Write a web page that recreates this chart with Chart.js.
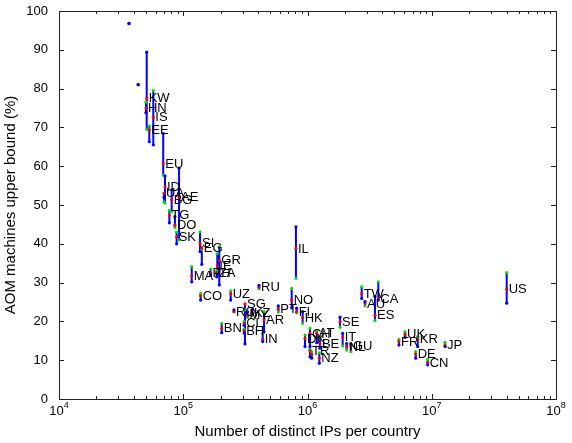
<!DOCTYPE html>
<html>
<head>
<meta charset="utf-8">
<script src="https://cdn.jsdelivr.net/npm/chart.js@4"></script>
<style>
  html, body { margin: 0; padding: 0; background: #fff; }
  #chart { display: block; }
</style>
</head>
<body>
<canvas id="chart" width="572" height="443"></canvas>
<script>
// country codes (empty = unlabeled point)
const countries = ["", "", "KW", "HN", "IS", "EE", "EU", "ID", "UA", "BG",
  "AE", "TG", "DO", "SK", "SI", "EG", "GR", "IE", "MA", "PH",
  "ZA", "CO", "UZ", "RU", "BN", "SG", "RO", "MY", "KZ", "AR",
  "CL", "BH", "IN", "PT", "NO", "IL", "FI", "HK", "SE", "CH",
  "DK", "AT", "BE", "TR", "", "NZ", "IT", "NL", "GU", "TW",
  "AU", "CA", "ES", "UK", "FR", "KR", "DE", "CN", "JP", "US"];

// number of distinct IPs per country
const ips = [36600, 43400, 50800, 50100, 57400, 53300, 69000, 71300, 70000, 80700,
  92500, 77300, 85700, 88500, 136500, 141000, 195000, 188000, 117000, 166000,
  186000, 138000, 241000, 407000, 204000, 314000, 256000, 329000, 357000, 447000,
  309000, 309000, 436000, 582000, 746000, 807000, 818000, 914000, 1828000, 1047000,
  955000, 1186000, 1259000, 1047000, 1081000, 1245000, 1919000, 2065000, 2239000, 2729000,
  2904000, 3715000, 3491000, 6095000, 5445000, 7709000, 7430000, 9268000, 12790000, 40090000];

// three estimates of the AOM upper bound (%)
const greenVals = [96.8, 81.0, 69.5, 76.5, 79.5, 70.4, 57.7, 50.5, 50.8, 48.3,
  41.0, 48.6, 44.2, 43.0, 43.1, 38.5, 39.3, 37.5, 34.1, 33.5,
  33.0, 27.2, 27.9, 28.4, 19.5, 23.0, 22.5, 21.0, 21.5, 22.5,
  20.0, 18.0, 16.9, 22.4, 28.5, 31.1, 22.2, 19.5, 18.5, 18.2,
  16.5, 17.5, 15.6, 12.8, 12.2, 11.9, 13.7, 12.6, 12.2, 28.9,
  24.0, 30.2, 20.2, 17.3, 15.4, 16.1, 12.2, 10.2, 14.6, 32.6];

const redVals = [96.8, 81.0, 77.5, 75.0, 72.6, 69.3, 60.7, 54.7, 53.0, 51.3,
  52.0, 47.4, 44.8, 41.8, 40.1, 39.0, 35.8, 34.3, 31.8, 32.4,
  32.6, 26.6, 27.1, 28.8, 18.2, 24.5, 22.5, 21.6, 22.1, 20.4,
  19.5, 17.6, 15.4, 23.1, 25.5, 38.8, 22.5, 21.0, 19.9, 16.9,
  15.6, 17.0, 14.3, 12.4, 11.5, 10.5, 15.9, 13.5, 13.7, 27.1,
  24.6, 25.9, 21.6, 16.7, 14.8, 15.4, 11.6, 9.4, 13.9, 28.3];

const blueVals = [96.8, 81.0, 89.4, 73.8, 65.5, 66.3, 68.4, 57.5, 52.0, 53.9,
  59.5, 45.4, 47.0, 40.0, 38.0, 34.7, 29.4, 32.0, 30.2, 32.0,
  31.5, 25.5, 25.5, 29.3, 17.1, 14.2, 23.0, 22.5, 23.0, 17.3,
  19.0, 17.0, 14.8, 24.0, 23.5, 44.4, 23.4, 22.5, 21.1, 13.5,
  13.5, 14.5, 13.1, 10.9, 10.5, 9.2, 16.9, 14.3, 14.2, 25.9,
  25.1, 25.5, 26.4, 15.9, 13.9, 13.5, 10.5, 8.8, 13.5, 24.7];

const yTicks = [0, 10, 20, 30, 40, 50, 60, 70, 80, 90, 100];
const xDecades = [4, 5, 6, 7, 8];

const FONT = "'Liberation Sans', Arial, Helvetica, sans-serif";

function points(vals) {
  return ips.map((ip, i) => ({ x: ip, y: vals[i] }));
}

// vertical range segments, broken by null points
const rangeData = [];
ips.forEach((ip, i) => {
  const v = [greenVals[i], redVals[i], blueVals[i]];
  rangeData.push({ x: ip, y: Math.min(...v) });
  rangeData.push({ x: ip, y: Math.max(...v) });
  rangeData.push({ x: ip, y: null });
});

const dot = (data, color) => ({
  data,
  backgroundColor: color,
  borderColor: color,
  pointRadius: 1.6,
  borderWidth: 0,
  showLine: false,
});

const boxPlugin = {
  id: "boxPlugin",
  afterDraw(chart) {
    const { ctx, chartArea: a, scales } = chart;
    const x = scales.x;
    const y = scales.y;
    ctx.save();
    ctx.strokeStyle = "#222";
    ctx.lineWidth = 1;
    ctx.strokeRect(a.left + 0.5, a.top + 0.5, a.right - a.left, a.bottom - a.top);

    ctx.beginPath();
    yTicks.forEach((v) => {
      const py = Math.round(y.getPixelForValue(v)) + 0.5;
      ctx.moveTo(a.left, py);
      ctx.lineTo(a.left + 5, py);
      ctx.moveTo(a.right, py);
      ctx.lineTo(a.right - 5, py);
    });
    xDecades.forEach((d, k) => {
      const base = Math.pow(10, d);
      const px = Math.round(x.getPixelForValue(base)) + 0.5;
      ctx.moveTo(px, a.bottom);
      ctx.lineTo(px, a.bottom - 5);
      ctx.moveTo(px, a.top);
      ctx.lineTo(px, a.top + 5);
      if (k < xDecades.length - 1) {
        for (let m = 2; m <= 9; m++) {
          const mx = Math.round(x.getPixelForValue(base * m)) + 0.5;
          ctx.moveTo(mx, a.bottom);
          ctx.lineTo(mx, a.bottom - 3);
          ctx.moveTo(mx, a.top);
          ctx.lineTo(mx, a.top + 3);
        }
      }
    });
    ctx.stroke();

    // log tick labels 10^n
    ctx.fillStyle = "#000";
    ctx.textBaseline = "alphabetic";
    ctx.textAlign = "left";
    xDecades.forEach((d) => {
      const px = x.getPixelForValue(Math.pow(10, d));
      ctx.font = `13px ${FONT}`;
      const w1 = ctx.measureText("10").width;
      ctx.font = `9px ${FONT}`;
      const w2 = ctx.measureText(String(d)).width;
      const left = px - (w1 + w2) / 2;
      ctx.font = `13px ${FONT}`;
      ctx.fillText("10", left, a.bottom + 16);
      ctx.font = `9px ${FONT}`;
      ctx.fillText(String(d), left + w1, a.bottom + 9);
    });
    ctx.restore();
  },
};

const labelPlugin = {
  id: "labelPlugin",
  afterDatasetsDraw(chart) {
    const { ctx, scales } = chart;
    ctx.save();
    ctx.font = `13px ${FONT}`;
    ctx.fillStyle = "#000";
    ctx.textAlign = "left";
    ctx.textBaseline = "middle";
    countries.forEach((c, i) => {
      if (!c) return;
      const px = scales.x.getPixelForValue(ips[i]);
      const py = scales.y.getPixelForValue(redVals[i]);
      ctx.fillText(c, px + 2, py + 0.5);
    });
    ctx.restore();
  },
};

new Chart(document.getElementById("chart").getContext("2d"), {
  type: "scatter",
  data: {
    datasets: [
      dot(points(blueVals), "#0000ff"),
      dot(points(redVals), "#ff0000"),
      dot(points(greenVals), "#00e000"),
      {
        data: rangeData,
        showLine: true,
        spanGaps: false,
        borderColor: "#0000ff",
        borderWidth: 2,
        pointRadius: 0,
      },
    ],
  },
  options: {
    responsive: false,
    animation: false,
    devicePixelRatio: 1,
    layout: { padding: { top: 11, right: 16, left: 0, bottom: 0 } },
    plugins: { legend: { display: false }, tooltip: { enabled: false } },
    scales: {
      x: {
        type: "logarithmic",
        min: 1e4,
        max: 1e8,
        grid: { display: false },
        border: { display: false },
        ticks: { display: false },
        title: {
          display: true,
          text: "Number of distinct IPs per country",
          color: "#000",
          font: { family: FONT, size: 15 },
          padding: { top: 0, bottom: 2 },
        },
        afterFit: (s) => { s.height = 44; },
      },
      y: {
        min: 0,
        max: 100,
        grid: { display: false },
        border: { display: false },
        ticks: {
          stepSize: 10,
          color: "#000",
          padding: 3,
          font: { family: FONT, size: 13 },
        },
        title: {
          display: true,
          text: "AOM machines upper bound (%)",
          color: "#000",
          font: { family: FONT, size: 15 },
          padding: { top: 2, bottom: 0 },
        },
        afterFit: (s) => { s.width = 59; },
      },
    },
  },
  plugins: [boxPlugin, labelPlugin],
});
</script>
</body>
</html>
